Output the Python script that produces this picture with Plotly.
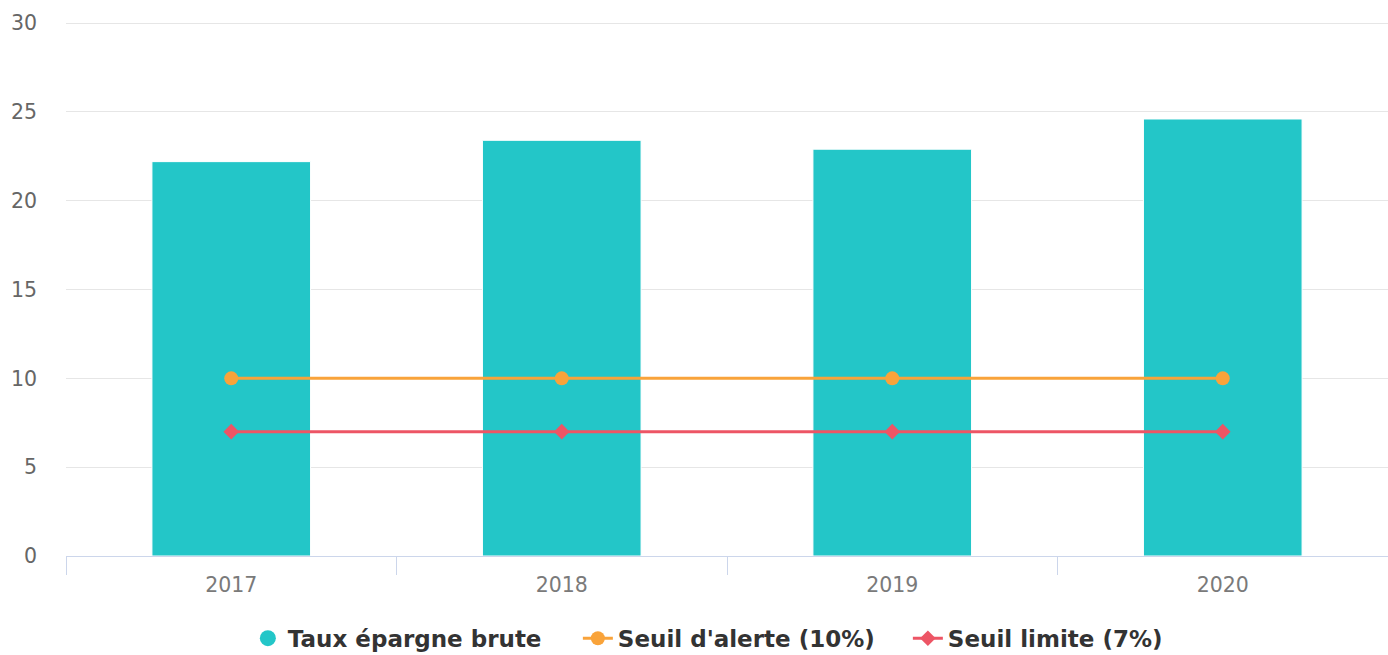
import plotly.graph_objects as go

years = ["2017", "2018", "2019", "2020"]
taux_epargne = [22.2, 23.4, 22.9, 24.6]
seuil_alerte = [10, 10, 10, 10]
seuil_limite = [7, 7, 7, 7]

FONT = "DejaVu Sans"
TEAL = "#23c6c8"
ORANGE = "#f9a33a"
RED = "#ed5565"

fig = go.Figure()
fig.add_trace(go.Bar(x=years, y=taux_epargne, name="Taux épargne brute",
                     marker=dict(color=TEAL, line=dict(color="white", width=1)),
                     showlegend=False))
fig.add_trace(go.Scatter(x=[None], y=[None], mode="markers", name="Taux épargne brute",
                         marker=dict(color=TEAL, size=22, symbol="circle")))
fig.add_trace(go.Scatter(x=years, y=seuil_alerte, name="Seuil d'alerte (10%)",
                         mode="lines+markers", line=dict(color=ORANGE, width=3),
                         marker=dict(color=ORANGE, size=14, symbol="circle")))
fig.add_trace(go.Scatter(x=years, y=seuil_limite, name="Seuil limite (7%)",
                         mode="lines+markers", line=dict(color=RED, width=3),
                         marker=dict(color=RED, size=12, symbol="diamond")))

fig.update_layout(
    width=1388, height=655,
    margin=dict(l=66, r=0, t=22, b=99, autoexpand=False),
    paper_bgcolor="white", plot_bgcolor="white",
    font=dict(family=FONT, size=20.5, color="#666666"),
    bargap=0.52,
    showlegend=True,
    legend=dict(orientation="h", x=0.512, xanchor="center", y=-0.154, yanchor="middle",
                font=dict(family=FONT, size=23, color="#333333", weight="bold"),
                itemsizing="trace", tracegroupgap=0, itemwidth=30,
                entrywidth=285, entrywidthmode="pixels"),
    xaxis=dict(type="category", showline=True, linecolor="#ccd6eb", linewidth=1,
               ticks="outside", tickson="boundaries", ticklen=18, tickcolor="#ccd6eb",
               ticklabelstandoff=10,
               tickfont=dict(family=FONT, size=20.5, color="#7a7a7a"),
               showgrid=False, zeroline=False),
    yaxis=dict(range=[0, 30.06], tickvals=[0, 5, 10, 15, 20, 25, 30], showgrid=True,
               gridcolor="#e6e6e6", gridwidth=1, zeroline=False, showline=False,
               ticklabelstandoff=28,
               tickfont=dict(family=FONT, size=20.5, color="#666666")),
)

fig.write_html("out.html")
